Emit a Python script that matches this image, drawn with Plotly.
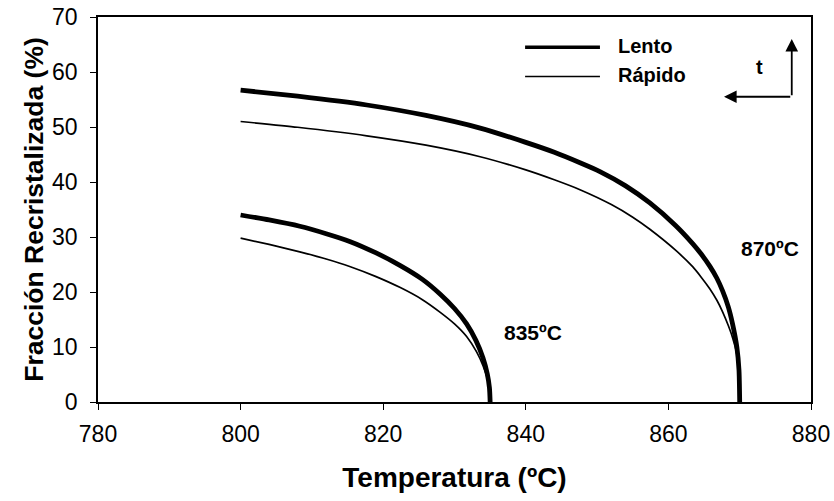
import plotly.graph_objects as go

# ---- data ----
x_lento_870 = [800, 808, 817.7, 826, 833.6, 840, 844, 847.6, 850.4, 854, 857.4, 861, 863.4, 864.6, 865.8, 866.8, 867.6, 868.4, 869, 869.6, 869.9, 870]
y_lento_870 = [56.7, 55.6, 54.0, 52.1, 49.8, 47.2, 45.4, 43.5, 41.9, 39.3, 36.2, 32.1, 28.8, 26.9, 24.7, 22.5, 20.2, 17.3, 14.2, 10.0, 5.8, 0]

x_rapido_870 = [800, 808, 817.7, 826, 833.6, 840, 844, 847.6, 852, 855, 857.4, 861, 863.4, 864.6, 865.8, 866.8, 867.6, 868.4, 869, 869.6, 869.9, 870]
y_rapido_870 = [51.0, 49.95, 48.4, 46.7, 44.6, 42.2, 40.4, 38.6, 35.9, 33.6, 31.4, 27.6, 24.6, 22.7, 20.6, 18.5, 16.4, 13.9, 11.7, 8.7, 4.8, 0]

x_lento_835 = [800, 804, 808.3, 812, 815.3, 819, 822.4, 825.5, 828, 830, 831.7, 833, 834, 834.6, 834.9, 835]
y_lento_835 = [34.0, 33.1, 31.95, 30.6, 29.2, 27.1, 24.8, 22.3, 19.6, 17.0, 14.2, 11.2, 8.0, 5.1, 2.6, 0]

x_rapido_835 = [800, 804, 808.3, 812, 815.3, 819, 822.4, 825.5, 828, 830, 831.7, 833.1, 834, 834.6, 834.9, 835]
y_rapido_835 = [29.8, 28.65, 27.3, 26.0, 24.65, 22.8, 20.8, 18.6, 16.3, 14.2, 11.9, 9.1, 6.6, 4.3, 2.2, 0]

x_ticks = [780, 800, 820, 840, 860, 880]
y_ticks = [0, 10, 20, 30, 40, 50, 60, 70]

series_names = ["Lento", "Rápido"]
temp_labels = ["870ºC", "835ºC"]

FONT = "Liberation Sans, Arial, sans-serif"
THICK = 4.8
THIN = 1.7

fig = go.Figure()
for xs, ys, w in [(x_lento_870, y_lento_870, THICK), (x_rapido_870, y_rapido_870, THIN),
                  (x_lento_835, y_lento_835, THICK), (x_rapido_835, y_rapido_835, THIN)]:
    fig.add_trace(go.Scatter(x=xs, y=ys, mode="lines",
                             line=dict(color="black", width=w, shape="spline", smoothing=0.6),
                             showlegend=False, hoverinfo="skip"))

# legend drawn by hand (long sample lines as in reference)
fig.add_shape(type="line", xref="x", yref="y", x0=839.9, x1=850.4, y0=64.5, y1=64.5,
              line=dict(color="black", width=3.5))
fig.add_shape(type="line", xref="x", yref="y", x0=839.9, x1=850.4, y0=59.2, y1=59.2,
              line=dict(color="black", width=1.5))
fig.add_annotation(x=852.6, y=64.8, xref="x", yref="y", text=f"<b>{series_names[0]}</b>",
                   showarrow=False, xanchor="left", font=dict(size=20, color="black", family=FONT))
fig.add_annotation(x=852.6, y=59.5, xref="x", yref="y", text=f"<b>{series_names[1]}</b>",
                   showarrow=False, xanchor="left", font=dict(size=20, color="black", family=FONT))

# time arrows
fig.add_annotation(x=877.3, y=66.0, ax=877.3, ay=55.5, xref="x", yref="y", axref="x", ayref="y",
                   text="", showarrow=True, arrowhead=2, arrowsize=1.4, arrowwidth=1.8, arrowcolor="black")
fig.add_annotation(x=867.8, y=55.5, ax=877.3, ay=55.5, xref="x", yref="y", axref="x", ayref="y",
                   text="", showarrow=True, arrowhead=2, arrowsize=1.4, arrowwidth=1.8, arrowcolor="black")
fig.add_annotation(x=872.8, y=61.0, xref="x", yref="y", text="<b>t</b>", showarrow=False,
                   font=dict(size=20, color="black", family=FONT))

# temperature labels
fig.add_annotation(x=874.3, y=27.9, xref="x", yref="y", text=f"<b>{temp_labels[0]}</b>", showarrow=False,
                   font=dict(size=21, color="black", family=FONT))
fig.add_annotation(x=841.0, y=12.7, xref="x", yref="y", text=f"<b>{temp_labels[1]}</b>", showarrow=False,
                   font=dict(size=21, color="black", family=FONT))

axis_common = dict(showline=True, linecolor="black", linewidth=1.5, mirror=True,
                   ticks="outside", ticklen=6, tickwidth=1.2, tickcolor="black",
                   showgrid=False, zeroline=False, automargin=False,
                   tickfont=dict(size=23, color="black", family=FONT))

fig.update_xaxes(range=[780, 880], tickvals=x_ticks, ticktext=[str(v) for v in x_ticks],
                 ticklabelstandoff=5,
                 title=dict(text="<b>Temperatura (ºC)</b>", font=dict(size=28, color="black", family=FONT),
                            standoff=21),
                 **axis_common)
fig.update_yaxes(range=[0, 70], tickvals=y_ticks, ticktext=[str(v) for v in y_ticks],
                 ticklabelstandoff=8,
                 title=dict(text="<b>Fracción Recristalizada (%)</b>", font=dict(size=26.5, color="black", family=FONT),
                            standoff=1),
                 **axis_common)

fig.update_layout(width=834, height=501, margin=dict(l=98, r=23, t=17, b=99),
                  plot_bgcolor="white", paper_bgcolor="white",
                  font=dict(family=FONT, color="black"))

fig.write_html("out.html")
